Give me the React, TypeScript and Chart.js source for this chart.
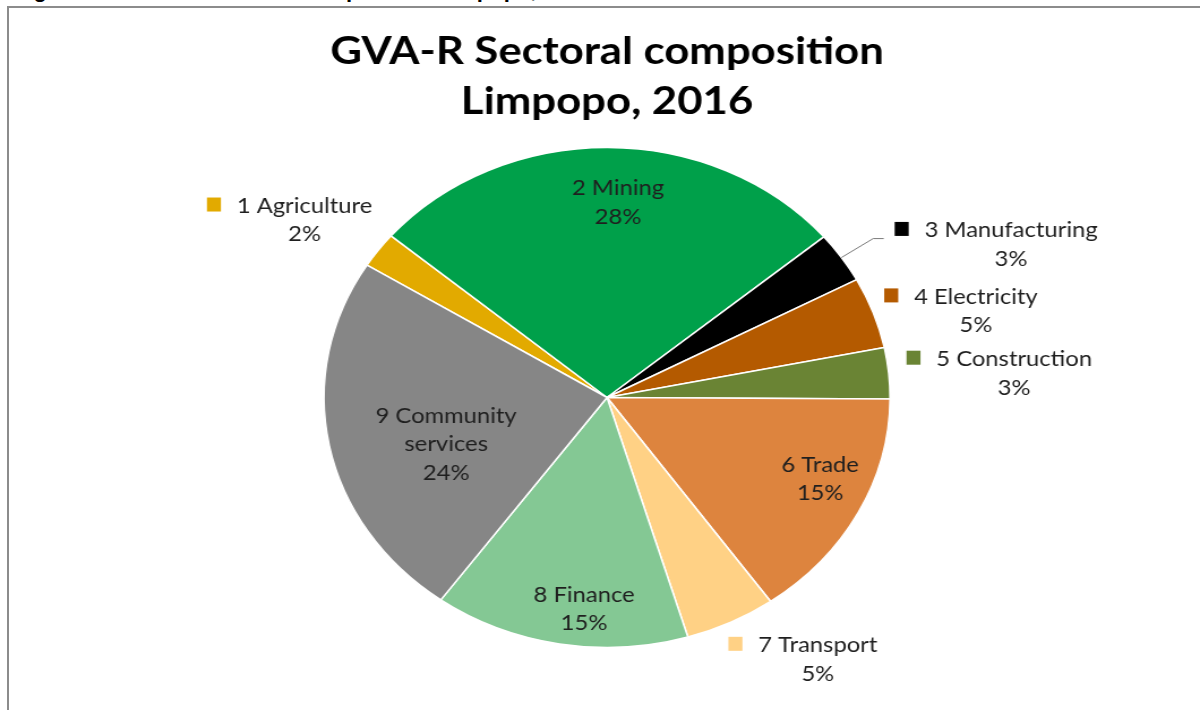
import React, { useEffect, useRef } from "react";
import { Chart, registerables } from "chart.js";

Chart.register(...registerables);

// ---------- data ----------
const categories = [
  "1 Agriculture",
  "2 Mining",
  "3 Manufacturing",
  "4 Electricity",
  "5 Construction",
  "6 Trade",
  "7 Transport",
  "8 Finance",
  "9 Community services",
];
const shares = [2.3, 27.7, 3.3, 4.6, 3.3, 15.1, 5.2, 14.6, 23.9];
const sliceColors = [
  "#E2AA00",
  "#00A04A",
  "#000000",
  "#B45A00",
  "#6A8434",
  "#DD843E",
  "#FFD185",
  "#84C894",
  "#868686",
];
const titleLines = ["GVA-R Sectoral composition", "Limpopo, 2016"];
const captionText = "Figure 3-9: GVA-R Sectoral composition Limpopo, 2016";

// ---------- label placement (style, relative to each slice's mid angle) ----------
type LabelStyle = { r: number; da: number; key: boolean; leader: boolean; wrap: boolean };
const labelStyles: LabelStyle[] = [
  { r: 1.284, da: -2.5, key: true, leader: false, wrap: false },
  { r: 0.783, da: 2.7, key: false, leader: false, wrap: false },
  { r: 1.554, da: 10.8, key: true, leader: true, wrap: false },
  { r: 1.349, da: 4.9, key: true, leader: false, wrap: false },
  { r: 1.442, da: 1.7, key: true, leader: false, wrap: false },
  { r: 0.82, da: -4.2, key: false, leader: false, wrap: false },
  { r: 1.284, da: -9.5, key: true, leader: false, wrap: false },
  { r: 0.848, da: -4.2, key: false, leader: false, wrap: false },
  { r: 0.598, da: -7.1, key: false, leader: false, wrap: true },
];

const STRETCH = 1200 / 1060;
const CANVAS_W = 1060;
const CANVAS_H = 710;
const LABEL_FONT = '21px Lato';
const LABEL_COLOR = "#1f1f1f";
const LINE_H = 28.3;
const CAP = 15;

const labelPlugin = {
  id: "sliceLabels",
  afterDatasetsDraw(chart: any) {
    const ctx: CanvasRenderingContext2D = chart.ctx;
    const meta = chart.getDatasetMeta(0);
    const values = chart.data.datasets[0].data as number[];
    const total = values.reduce((a, b) => a + b, 0);
    ctx.save();
    meta.data.forEach((arc: any, i: number) => {
      const p = arc.getProps(["x", "y", "startAngle", "endAngle", "outerRadius"], true);
      const st = labelStyles[i];
      const baseMid = (p.startAngle + p.endAngle) / 2;
      const mid = baseMid + (st.da * Math.PI) / 180;
      const cx = p.x + Math.cos(mid) * p.outerRadius * st.r;
      const cy = p.y + Math.sin(mid) * p.outerRadius * st.r;
      const name = categories[i];
      let lines: string[] = [name];
      if (st.wrap) {
        const idx = name.lastIndexOf(" ");
        lines = [name.slice(0, idx), name.slice(idx + 1)];
      }
      lines.push(Math.round((values[i] / total) * 100) + "%");
      ctx.font = LABEL_FONT;
      ctx.fillStyle = LABEL_COLOR;
      ctx.textAlign = "center";
      ctx.textBaseline = "alphabetic";
      const top = cy - ((lines.length - 1) * LINE_H) / 2;
      lines.forEach((ln, k) => {
        ctx.fillText(ln, cx, top + k * LINE_H + CAP / 2);
      });
      if (st.key) {
        const w0 = ctx.measureText(lines[0]).width;
        const kw = 14 / STRETCH;
        const kx = cx - w0 / 2 - 14 - kw;
        ctx.fillStyle = sliceColors[i];
        ctx.fillRect(kx, top - 8, kw, 14);
        if (st.leader) {
          const R = p.outerRadius;
          const sx = p.x + Math.cos(baseMid) * R;
          const sy = p.y + Math.sin(baseMid) * R;
          const ex = p.x + Math.cos(baseMid) * R * 1.135;
          const ey = p.y + Math.sin(baseMid) * R * 1.135;
          ctx.strokeStyle = "#7a7a7a";
          ctx.lineWidth = 1;
          ctx.beginPath();
          ctx.moveTo(sx, sy);
          ctx.lineTo(ex, ey);
          ctx.lineTo(kx - 9.7, ey);
          ctx.stroke();
        }
      }
    });
    // title
    const ca = chart.chartArea;
    const tx = (ca.left + ca.right) / 2;
    ctx.font = 'bold 38.6px Lato';
    ctx.fillStyle = "#000000";
    ctx.textAlign = "center";
    ctx.textBaseline = "alphabetic";
    ctx.fillText(titleLines[0], tx, 63.5);
    ctx.fillText(titleLines[1], tx, 113.5);
    ctx.restore();
  },
};

export default function App() {
  const ref = useRef<HTMLCanvasElement>(null);
  useEffect(() => {
    const chart = new Chart(ref.current as HTMLCanvasElement, {
      type: "pie",
      data: {
        labels: categories,
        datasets: [
          {
            data: shares,
            backgroundColor: sliceColors,
            borderColor: "#ffffff",
            borderWidth: 1.5,
          },
        ],
      },
      options: {
        responsive: false,
        animation: false,
        devicePixelRatio: 1,
        rotation: -58,
        radius: 250,
        layout: { padding: { top: 147.5, bottom: 62.5, left: 236, right: 223.6 } },
        plugins: {
          legend: { display: false },
          tooltip: { enabled: false },
          title: { display: false },
        },
      } as any,
      plugins: [labelPlugin],
    });
    return () => chart.destroy();
  }, []);

  return (
    <div
      style={{
        position: "fixed",
        left: 0,
        top: 0,
        width: 1200,
        height: 710,
        background: "#ffffff",
        overflow: "hidden",
      }}
    >
      <div style={{ position: "absolute", left: 0, top: 0, width: 1200, height: 6, overflow: "hidden" }}>
        <div
          style={{
            position: "absolute",
            left: 14,
            top: -21.5,
            font: 'bold 22px "Liberation Sans"',
            lineHeight: "22px",
            whiteSpace: "nowrap",
            color: "#000",
          }}
        >
          {captionText}
        </div>
      </div>
      <div
        style={{
          position: "absolute",
          left: 7,
          top: 6,
          width: 1300,
          height: 800,
          borderLeft: "2px solid #8c8c8c",
          borderTop: "2px solid #8c8c8c",
        }}
      />
      <div
        style={{
          position: "absolute",
          left: 0,
          top: 0,
          width: CANVAS_W,
          height: CANVAS_H,
          transform: `scaleX(${STRETCH})`,
          transformOrigin: "0 0",
        }}
      >
        <canvas
          ref={ref}
          width={CANVAS_W}
          height={CANVAS_H}
          style={{ width: CANVAS_W, height: CANVAS_H, display: "block" }}
        />
      </div>
    </div>
  );
}
